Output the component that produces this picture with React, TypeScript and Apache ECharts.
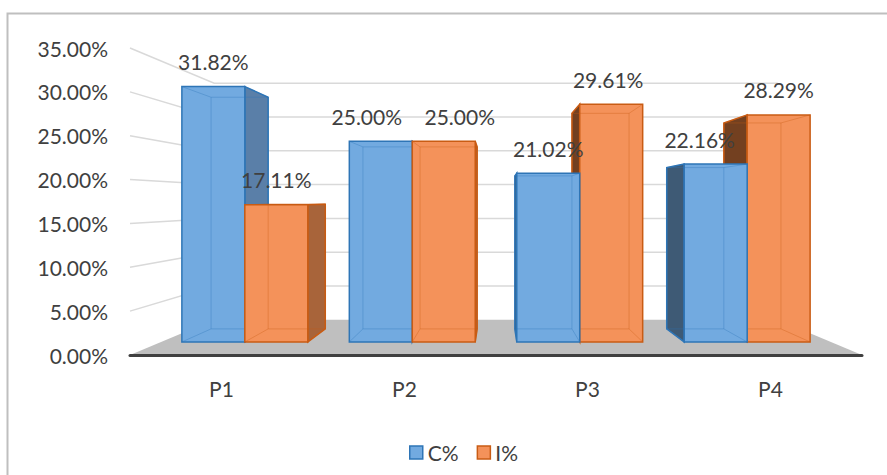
import React, { useEffect, useRef } from "react";
import * as echarts from "echarts";

const categories = ["P1", "P2", "P3", "P4"];
const seriesNames = ["C%", "I%"];
const cValues = [31.82, 25.0, 21.02, 22.16];
const iValues = [17.11, 25.0, 29.61, 28.29];
const yTicks = [0, 5, 10, 15, 20, 25, 30, 35];

const FONT = "Lato, 'Open Sans', sans-serif";
const TEXT = "#404040";
const EYE = 17.5; // value level of the vanishing point
const S_FLOOR = 0.77;
const S_FRONT = 0.915;
const S_BACK = 0.83;
const BAR_FRAC = 0.376;

const STYLES = [
  { fill: "#72aae0", edge: "#2e75b6", rightSide: "#5a7fa8", leftSide: "#3e5a75", top: "#8fbbe6" },
  { fill: "#f4925a", edge: "#c95c14", rightSide: "#a8643a", leftSide: "#734020", top: "#f8b283" },
];
const LABEL_DX = [
  [0, -14, 0, -16],
  [0, 16, -3, 0],
];

type Pt = number[];

function frame(params: any, api: any) {
  const cs = params.coordSys;
  const vx = cs.x + cs.width / 2;
  const vy = api.coord([0, EYE])[1];
  const P = (x: number, y: number, s: number): Pt => [vx + s * (x - vx), vy + s * (y - vy)];
  return { cs, vx, vy, P };
}

function makeBarRender(k: number) {
  return (params: any, api: any) => {
    const i = api.value(0);
    const v = api.value(1);
    const { vx, vy, P } = frame(params, api);
    const cx = api.coord([i, 0])[0];
    const catW = api.size([1, 0])[0];
    const bw = catW * BAR_FRAC;
    const x0 = k === 0 ? cx - bw : cx;
    const x1 = x0 + bw;
    const yb = api.coord([i, 0])[1];
    const yt = api.coord([i, v])[1];
    const f = [P(x0, yt, S_FRONT), P(x1, yt, S_FRONT), P(x1, yb, S_FRONT), P(x0, yb, S_FRONT)];
    const b = [P(x0, yt, S_BACK), P(x1, yt, S_BACK), P(x1, yb, S_BACK), P(x0, yb, S_BACK)];
    const st = STYLES[k];
    const dist = Math.abs((x0 + x1) / 2 - vx);
    const base = (3000 - Math.round(dist)) * 10;
    const children: any[] = [];
    if (x1 < vx) {
      children.push({
        type: "polygon",
        shape: { points: [f[1], b[1], b[2], f[2]] },
        style: { fill: st.rightSide, stroke: st.edge, lineWidth: 1.5 },
        z2: base,
      });
    } else if (x0 > vx) {
      children.push({
        type: "polygon",
        shape: { points: [f[0], b[0], b[3], f[3]] },
        style: { fill: st.leftSide, stroke: st.edge, lineWidth: 1.5 },
        z2: base,
      });
    }
    if (yt > vy) {
      children.push({
        type: "polygon",
        shape: { points: [f[0], f[1], b[1], b[0]] },
        style: { fill: st.top, stroke: st.edge, lineWidth: 1 },
        z2: base + 1,
      });
    }
    children.push({
      type: "polygon",
      shape: { points: f },
      style: { fill: st.fill, stroke: st.edge, lineWidth: 1.5 },
      z2: base + 2,
    });
    children.push({
      type: "polygon",
      shape: { points: b },
      style: { fill: "none", stroke: st.edge, lineWidth: 1, opacity: 0.35 },
      z2: base + 3,
    });
    for (let j = 0; j < 4; j++) {
      children.push({
        type: "line",
        shape: { x1: f[j][0], y1: f[j][1], x2: b[j][0], y2: b[j][1] },
        style: { stroke: st.edge, lineWidth: 1, opacity: 0.35 },
        z2: base + 3,
      });
    }
    children.push({
      type: "text",
      style: {
        x: (f[0][0] + f[1][0]) / 2 + LABEL_DX[k][i],
        y: f[0][1] - 25,
        text: v.toFixed(2) + "%",
        fill: TEXT,
        fontSize: 21,
        fontFamily: FONT,
        align: "center",
        verticalAlign: "middle",
      },
      z2: 100000,
    });
    return { type: "group", children };
  };
}

function floorRender(params: any, api: any) {
  const { cs, P } = frame(params, api);
  const yb = api.coord([0, 0])[1];
  const xl = cs.x;
  const xr = cs.x + cs.width;
  return {
    type: "polygon",
    shape: { points: [[xl, yb], [xr, yb], P(xr, yb, S_FLOOR), P(xl, yb, S_FLOOR)] },
    style: { fill: "#bfbfbf" },
  };
}

function gridRender(params: any, api: any) {
  const { cs, P } = frame(params, api);
  const y = api.coord([0, api.value(1)])[1];
  const xl = cs.x;
  const xr = cs.x + cs.width;
  return {
    type: "polyline",
    shape: { points: [[xl, y], P(xl, y, S_FLOOR), P(xr, y, S_FLOOR)] },
    style: { stroke: "#d9d9d9", lineWidth: 1.5, fill: "none" },
  };
}

export default function App() {
  const ref = useRef<HTMLDivElement>(null);
  useEffect(() => {
    if (!ref.current) return;
    const chart = echarts.init(ref.current, undefined, { renderer: "svg" });
    const values = [cValues, iValues];
    chart.setOption({
      animation: false,
      backgroundColor: "#ffffff",
      grid: { left: 130, right: 25, top: 48, bottom: 120 },
      legend: {
        left: 404,
        top: 437,
        itemWidth: 13,
        itemHeight: 13,
        itemGap: 18,
        icon: "rect",
        textStyle: { fontSize: 21, color: TEXT, fontFamily: FONT },
        data: seriesNames.map((n, k) => ({
          name: n,
          itemStyle: { color: STYLES[k].fill, borderColor: STYLES[k].edge, borderWidth: 1.5 },
        })),
      },
      xAxis: {
        type: "category",
        data: categories,
        z: 10,
        axisLine: { show: true, lineStyle: { color: "#404040", width: 3 } },
        axisTick: { show: false },
        axisLabel: { margin: 23, fontSize: 21, color: TEXT, fontFamily: FONT },
      },
      yAxis: {
        type: "value",
        min: 0,
        max: 35,
        interval: 5,
        axisLine: { show: false },
        axisTick: { show: false },
        splitLine: { show: false },
        axisLabel: {
          margin: 22,
          fontSize: 21,
          color: TEXT,
          fontFamily: FONT,
          formatter: (v: number) => v.toFixed(2) + "%",
        },
      },
      graphic: [
        {
          type: "rect",
          shape: { x: 7.5, y: 13.5, width: 1000, height: 1000 },
          style: { fill: "none", stroke: "#bfbfbf", lineWidth: 2 },
          z: 100,
        },
      ],
      series: [
        {
          type: "custom",
          name: "floor",
          z: 1,
          coordinateSystem: "cartesian2d",
          renderItem: floorRender,
          data: [[0, 0]],
          silent: true,
        },
        {
          type: "custom",
          name: "walls",
          z: 1,
          coordinateSystem: "cartesian2d",
          renderItem: gridRender,
          data: yTicks.filter((t) => t > 0).map((t) => [0, t]),
          silent: true,
        },
        ...seriesNames.map((n, k) => ({
          type: "custom",
          name: n,
          z: 2,
          coordinateSystem: "cartesian2d",
          itemStyle: { color: STYLES[k].fill, borderColor: STYLES[k].edge, borderWidth: 1.5 },
          renderItem: makeBarRender(k),
          data: values[k].map((v, i) => [i, v]),
        })),
      ],
    });
    return () => chart.dispose();
  }, []);
  return (
    <div
      ref={ref}
      style={{ position: "absolute", left: 0, top: 0, width: 887, height: 475 }}
    />
  );
}
